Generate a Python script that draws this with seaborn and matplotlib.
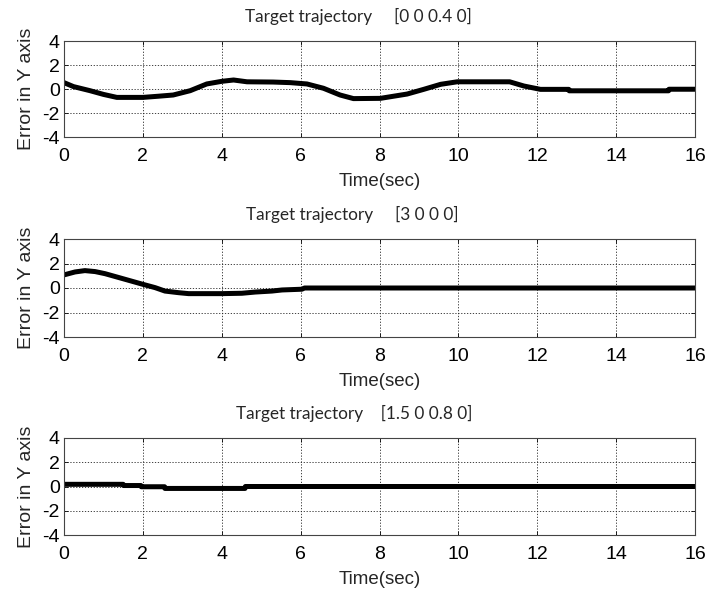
import matplotlib
matplotlib.use("Agg")
import matplotlib.pyplot as plt
import seaborn as sns
import pandas as pd
import numpy as np

# Panel 1: Target trajectory [0 0 0.4 0]
t1 = [0.0, 0.24, 0.66, 1.0, 1.34, 2.0, 2.4, 2.77, 3.2, 3.62, 4.0, 4.3, 4.64, 5.3, 5.74, 6.16,
      6.58, 7.0, 7.34, 8.02, 8.7, 9.12, 9.55, 9.97, 11.3, 11.66, 12.08, 12.8, 12.81, 15.33, 15.34, 16.0]
y1 = [0.53, 0.2, -0.14, -0.45, -0.7, -0.7, -0.6, -0.5, -0.14, 0.42, 0.64, 0.75, 0.6, 0.58, 0.53, 0.42,
      0.06, -0.5, -0.8, -0.78, -0.42, -0.03, 0.39, 0.6, 0.6, 0.25, -0.03, -0.03, -0.15, -0.15, -0.02, -0.02]

# Panel 2: Target trajectory [3 0 0 0]
t2 = [0.0, 0.28, 0.53, 0.79, 1.04, 1.46, 2.0, 2.31, 2.56, 2.9, 3.16, 4.0, 4.51, 4.85, 5.27,
      5.53, 6.03, 6.1, 16.0]
y2 = [1.07, 1.31, 1.42, 1.34, 1.17, 0.79, 0.3, 0.03, -0.25, -0.38, -0.46, -0.46, -0.43, -0.33, -0.25,
      -0.16, -0.1, 0.0, 0.0]

# Panel 3: Target trajectory [1.5 0 0.8 0]
t3 = [0.0, 1.5, 1.51, 1.95, 1.96, 2.55, 2.56, 4.59, 4.6, 16.0]
y3 = [0.18, 0.18, 0.08, 0.08, -0.02, -0.02, -0.16, -0.16, 0.0, 0.0]

titles = ["Target trajectory     [0 0 0.4 0]",
          "Target trajectory     [3 0 0 0]",
          "Target trajectory    [1.5 0 0.8 0]"]
title_x = [0.466, 0.457, 0.460]
xticks = [0, 2, 4, 6, 8, 10, 12, 14, 16]
yticks = [-4, -2, 0, 2, 4]

sns.set_theme(style="white")
plt.rcParams['font.family'] = ['Liberation Sans', 'DejaVu Sans']
plt.rcParams['axes.unicode_minus'] = False

fig = plt.figure(figsize=(7.08, 5.91), dpi=100)
W, H = 708, 591
boxes = [(64, 41, 695, 137), (64, 239, 695, 337), (64, 438, 695, 535)]

for (l, tp, r, b), t, y, title, tx in zip(boxes, [t1, t2, t3], [y1, y2, y3], titles, title_x):
    ax = fig.add_axes([l / W, 1 - b / H, (r - l) / W, (b - tp) / H])
    df = pd.DataFrame({"t": t, "y": y})
    sns.lineplot(data=df, x="t", y="y", ax=ax, color="black", linewidth=3.6, sort=False)
    ax.set_xlim(0, 16)
    ax.set_ylim(-4, 4)
    ax.set_xticks(xticks)
    ax.set_yticks(yticks)
    ax.grid(True, color="#222222", linestyle=(0, (1.5, 2)), linewidth=0.6)
    for s in ax.spines.values():
        s.set_color("#444444")
        s.set_linewidth(0.8)
        s.set_visible(True)
    ax.tick_params(axis="both", labelsize=14, colors="black", direction="in",
                   length=3, width=0.6, top=True, right=True, bottom=True, left=True)
    ax.tick_params(axis="x", pad=8)
    ax.tick_params(axis="y", pad=3)
    ax.set_xlabel("Time(sec)", fontsize=13.5, labelpad=6)
    ax.set_ylabel("Error in Y axis", fontsize=14, labelpad=5)
    ax.set_title(title, fontsize=12.4, x=tx, pad=14,
                 family=['Lato', 'DejaVu Sans'])

fig.savefig("out.png", dpi=100)
